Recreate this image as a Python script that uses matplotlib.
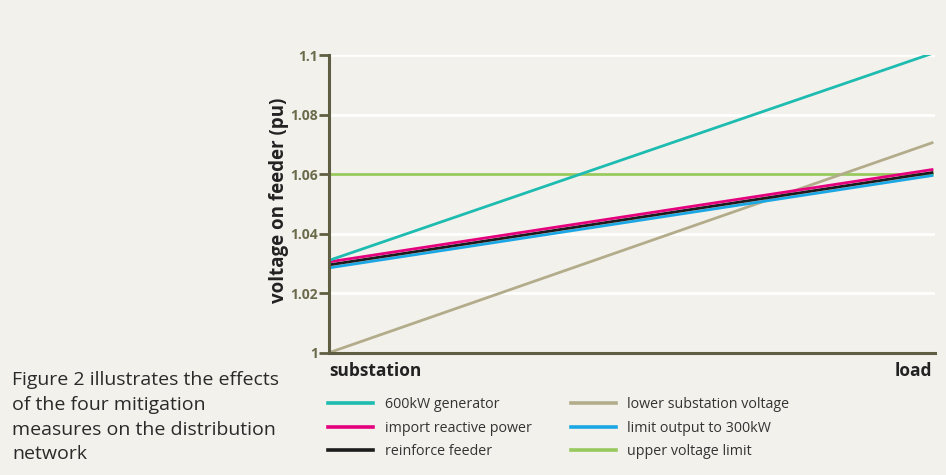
import matplotlib
matplotlib.use("Agg")
import matplotlib.pyplot as plt

plt.rcParams["font.family"] = ["Open Sans", "DejaVu Sans"]

# feeder position: substation (0) to load (1)
positions = [0.0, 1.0]
series_names = [
    "600kW generator",
    "import reactive power",
    "reinforce feeder",
    "lower substation voltage",
    "limit output to 300kW",
    "upper voltage limit",
]
gen_600kw = [1.031, 1.1005]
import_reactive = [1.0305, 1.0615]
reinforce = [1.0295, 1.0605]
lower_sub = [1.000, 1.0705]
limit_300kw = [1.0285, 1.0595]
upper_limit = [1.060, 1.060]
y_ticks = [1.0, 1.02, 1.04, 1.06, 1.08, 1.1]
y_tick_labels = ["1", "1.02", "1.04", "1.06", "1.08", "1.1"]

BG = "#f2f1ec"
OLIVE = "#5f5e42"
TICK_TXT = "#6b6a4a"

fig = plt.figure(figsize=(9.46, 4.75), dpi=100, facecolor=BG)
ax = fig.add_axes([0.3478, 0.2575, 0.6406, 0.6267], facecolor=BG)

for y in y_ticks[1:]:
    ax.axhline(y, color="white", lw=2.0, zorder=1)

ax.plot(positions, upper_limit, color="#97c95c", lw=2.0, zorder=2, label=series_names[5])
ax.plot(positions, lower_sub, color="#b3ac8b", lw=2.0, zorder=3, label=series_names[3])
ax.plot(positions, limit_300kw, color="#1aa7e4", lw=2.0, zorder=4, label=series_names[4])
ax.plot(positions, reinforce, color="#1c1c1c", lw=2.0, zorder=5, label=series_names[2])
ax.plot(positions, import_reactive, color="#e5007d", lw=2.0, zorder=6, label=series_names[1])
ax.plot(positions, gen_600kw, color="#1ebcb0", lw=2.0, zorder=7, label=series_names[0])

ax.set_xlim(0, 1.005)
ax.set_ylim(1.0, 1.1)
ax.set_xticks([])
ax.set_yticks(y_ticks)
ax.set_yticklabels(y_tick_labels, fontsize=10, fontweight="bold", color=TICK_TXT)
ax.tick_params(axis="y", length=7, width=2, color=OLIVE, pad=1)

for side in ("top", "right"):
    ax.spines[side].set_visible(False)
for side in ("left", "bottom"):
    ax.spines[side].set_color(OLIVE)
    ax.spines[side].set_linewidth(2.2)
    ax.spines[side].set_zorder(8)

ax.set_ylabel("voltage on feeder (pu)", fontsize=13.5, fontweight="bold", color="#222222")
ax.yaxis.set_label_coords(-0.066, 0.511)

ax.text(0.0, -0.03, "substation", transform=ax.transAxes, ha="left", va="top",
        fontsize=12.5, fontweight="bold", color="#222222")
ax.text(0.995, -0.03, "load", transform=ax.transAxes, ha="right", va="top",
        fontsize=12.5, fontweight="bold", color="#222222")

# legend in source order, filled column-wise
handles, labels = ax.get_legend_handles_labels()
order = [labels.index(n) for n in series_names]
leg = fig.legend([handles[i] for i in order], [labels[i] for i in order],
                 ncol=2, loc="upper left", bbox_to_anchor=(0.341, 0.176),
                 frameon=False, fontsize=10.3, handlelength=3.15, handletextpad=0.8,
                 columnspacing=2.72, labelspacing=0.6, borderaxespad=0)
for line in leg.get_lines():
    line.set_linewidth(2.6)
for t in leg.get_texts():
    t.set_color("#333333")

fig.text(0.013, 0.218,
         "Figure 2 illustrates the effects\nof the four mitigation\nmeasures on the distribution\nnetwork",
         ha="left", va="top", fontsize=14, color="#2a2a2a", linespacing=1.47)

fig.savefig("out.png", dpi=100, facecolor=BG)
